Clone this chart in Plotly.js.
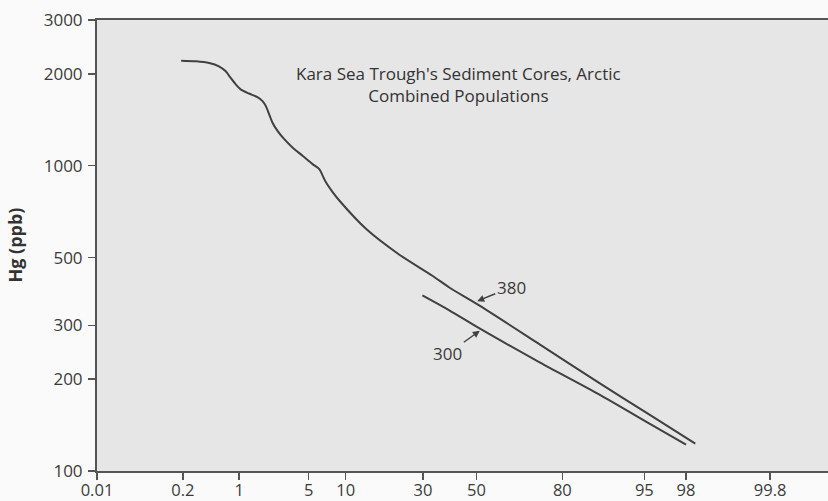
<!DOCTYPE html>
<html>
<head>
<meta charset="utf-8">
<script src="https://cdn.plot.ly/plotly-3.0.1.min.js"></script>
<style>
  html, body { margin: 0; padding: 0; background: #fafafa; }
  #chart { width: 828px; height: 501px; }
</style>
</head>
<body>
<div id="chart"></div>
<script>
// Cumulative probability (%) and Hg concentration (ppb) for each curve
const prob380 = [0.19, 0.30, 0.44, 0.58, 0.70, 0.80, 0.92, 1.05, 1.29, 1.59, 1.80, 1.95, 2.11, 2.28, 2.56, 2.98,
                 3.57, 4.41, 5.41, 6.17, 6.58, 7.01, 7.93, 8.94, 14.0, 22.5, 33.3, 39.5, 51.2, 73.2, 88.6, 95.5, 98.4];
const hg380   = [2206, 2196, 2168, 2115, 2037, 1938, 1843, 1775, 1723, 1677, 1627, 1567, 1472, 1383, 1300, 1221,
                 1147, 1078, 1012, 975, 928, 882, 819, 769, 620, 511, 436, 399, 348, 260, 194, 153, 123];

const prob300 = [29.8, 39.5, 51.2, 73.2, 88.6, 95.5, 98.0];
const hg300   = [376, 336, 293, 227, 178, 143, 122];

// Probability-axis ticks (%) and their labels
const xTickProbs  = [0.01, 0.2, 1, 5, 10, 30, 50, 80, 95, 98, 99.8];
const xTickLabels = ['0.01', '0.2', '1', '5', '10', '30', '50', '80', '95', '98', '99.8'];

// Log-axis ticks for Hg
const yTickVals   = [100, 200, 300, 500, 1000, 2000, 3000];
const yTickLabels = ['100', '200', '300', '500', '1000', '2000', '3000'];

// Curve labels: text, arrow-head position (probability %, Hg)
const curveLabels = ['380', '300'];
const labelProb   = [50.3, 51.3];
const labelHg     = [360, 288];

// Inverse standard normal CDF (Acklam's rational approximation)
function probit(p) {
  const a = [-3.969683028665376e+01, 2.209460984245205e+02, -2.759285104469687e+02,
             1.383577518672690e+02, -3.066479806614716e+01, 2.506628277459239e+00];
  const b = [-5.447609879822406e+01, 1.615858368580409e+02, -1.556989798598866e+02,
             6.680131188771972e+01, -1.328068155288572e+01];
  const c = [-7.784894002430293e-03, -3.223964580411365e-01, -2.400758277161838e+00,
             -2.549732539343734e+00, 4.374664141464968e+00, 2.938163982698783e+00];
  const d = [7.784695709041462e-03, 3.224671290700398e-01, 2.445134137142996e+00,
             3.754408661907416e+00];
  const pl = 0.02425, ph = 1 - pl;
  let q, r;
  if (p < pl) {
    q = Math.sqrt(-2 * Math.log(p));
    return (((((c[0]*q + c[1])*q + c[2])*q + c[3])*q + c[4])*q + c[5]) /
           ((((d[0]*q + d[1])*q + d[2])*q + d[3])*q + 1);
  }
  if (p <= ph) {
    q = p - 0.5; r = q * q;
    return (((((a[0]*r + a[1])*r + a[2])*r + a[3])*r + a[4])*r + a[5]) * q /
           (((((b[0]*r + b[1])*r + b[2])*r + b[3])*r + b[4])*r + 1);
  }
  q = Math.sqrt(-2 * Math.log(1 - p));
  return -(((((c[0]*q + c[1])*q + c[2])*q + c[3])*q + c[4])*q + c[5]) /
          ((((d[0]*q + d[1])*q + d[2])*q + d[3])*q + 1);
}
const z = pct => probit(pct / 100);

const ink = '#404040';
const font = '"Open Sans", "Noto Sans", sans-serif';

const lineStyle = { color: ink, width: 2, shape: 'spline', smoothing: 0.8 };

const traces = [
  { x: prob380.map(z), y: hg380, mode: 'lines', line: lineStyle, hoverinfo: 'skip', name: '380' },
  { x: prob300.map(z), y: hg300, mode: 'lines', line: lineStyle, hoverinfo: 'skip', name: '300' }
];

const labelOffsets = [[34, -14], [-32, 23]];

const annotations = curveLabels.map((t, i) => ({
  x: z(labelProb[i]), y: Math.log10(labelHg[i]), xref: 'x', yref: 'y',
  text: t, showarrow: true, arrowhead: 2, arrowsize: 1, arrowwidth: 1.4,
  arrowcolor: ink, ax: labelOffsets[i][0], ay: labelOffsets[i][1], standoff: 0,
  font: { family: font, size: 17, color: '#3a3a3a' }
}));

annotations.push({
  xref: 'paper', yref: 'paper', x: 0.494, y: 0.858, xanchor: 'center', yanchor: 'middle',
  text: "Kara Sea Trough's Sediment Cores, Arctic<br>Combined Populations",
  showarrow: false, font: { family: font, size: 17, color: '#333' }
});

annotations.push({
  xref: 'paper', yref: 'paper', x: -0.1135, y: 0.5, xanchor: 'center', yanchor: 'middle',
  text: '<b>Hg (ppb)</b>', textangle: -90, showarrow: false,
  font: { family: font, size: 18, color: '#333' }
});

const layout = {
  width: 828, height: 501,
  margin: { l: 97, r: 0, t: 20, b: 30, pad: 0 },
  paper_bgcolor: '#fafafa',
  plot_bgcolor: '#e6e6e6',
  showlegend: false,
  font: { family: font, size: 17, color: '#3a3a3a' },
  xaxis: {
    type: 'linear', range: [z(0.01), 3.445],
    tickmode: 'array', tickvals: xTickProbs.map(z), ticktext: xTickLabels,
    ticks: 'outside', ticklen: 7, tickwidth: 1.5, tickcolor: '#555',
    ticklabelstandoff: -4,
    showline: true, linecolor: '#555', linewidth: 2, mirror: true,
    showgrid: false, zeroline: false,
    tickfont: { family: font, size: 16.5, color: '#3a3a3a' }
  },
  yaxis: {
    type: 'log', range: [2, Math.log10(3000)],
    tickmode: 'array', tickvals: yTickVals, ticktext: yTickLabels,
    ticks: 'outside', ticklen: 7, tickwidth: 1.5, tickcolor: '#555',
    ticklabelstandoff: 2,
    showline: true, linecolor: '#555', linewidth: 2,
    showgrid: false, zeroline: false,
    tickfont: { family: font, size: 17, color: '#3a3a3a' }
  },
  annotations: annotations
};

Plotly.newPlot('chart', traces, layout, { staticPlot: true, displayModeBar: false });
</script>
</body>
</html>
